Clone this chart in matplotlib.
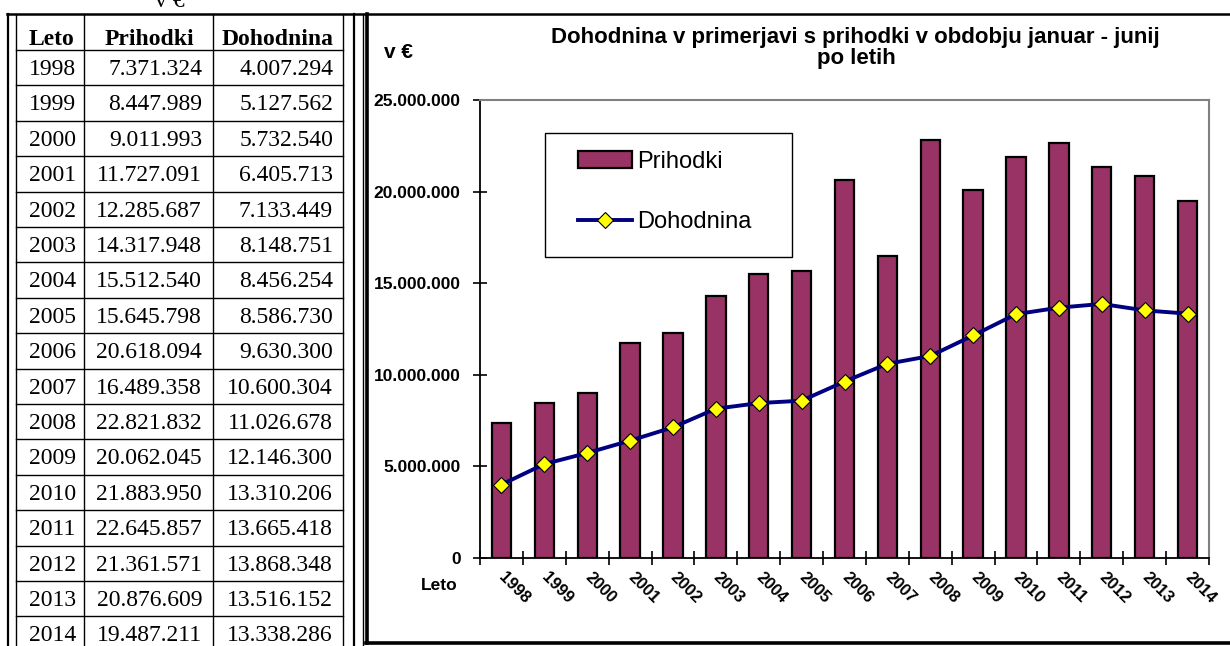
import numpy as np
import matplotlib
matplotlib.use('Agg')
import matplotlib.pyplot as plt
from matplotlib.lines import Line2D
from matplotlib.patches import Rectangle
from matplotlib.ticker import FuncFormatter

leta = [1998, 1999, 2000, 2001, 2002, 2003, 2004, 2005, 2006,
        2007, 2008, 2009, 2010, 2011, 2012, 2013, 2014]
prihodki = [7371324, 8447989, 9011993, 11727091, 12285687, 14317948,
            15512540, 15645798, 20618094, 16489358, 22821832, 20062045,
            21883950, 22645857, 21361571, 20876609, 19487211]
dohodnina = [4007294, 5127562, 5732540, 6405713, 7133449, 8148751,
             8456254, 8586730, 9630300, 10600304, 11026678, 12146300,
             13310206, 13665418, 13868348, 13516152, 13338286]
glava = ['Leto', 'Prihodki', 'Dohodnina']

W, H = 1230, 646
fig = plt.figure(figsize=(W / 100, H / 100), dpi=100)


def fx(x):
    return x / W


def fy(y):
    return 1 - y / H


def hline(x0, x1, y, lw=1.0):
    fig.add_artist(Line2D([fx(x0), fx(x1)], [fy(y), fy(y)], color='black', lw=lw))


def vline(x, y0, y1, lw=1.0):
    fig.add_artist(Line2D([fx(x), fx(x)], [fy(y0), fy(y1)], color='black', lw=lw))


def fmt(v):
    return f"{int(v):,}".replace(',', '.')


# ---- table on the left ----
serif = 'Liberation Serif'
tsize = 17
row_h = 35.4
hline(7, W, 14, lw=1.8)
hline(16, 343, 50)
for i in range(len(leta)):
    hline(16, 343, 50 + row_h * (i + 1))
vline(7.5, 14, H, lw=1.6)
for xv in [16, 84, 213, 343]:
    vline(xv, 14, H)
vline(354, 14, H, lw=1.6)
vline(362.5, 14, H)

# unit above the table, cut by the page edge as in the original
fig.text(fx(170), fy(7), 'v €', ha='center', va='baseline', fontsize=17, family=serif)

fig.text(fx(29), fy(45), glava[0], ha='left', va='baseline', fontsize=tsize,
         family=serif, fontweight='bold')
fig.text(fx(149), fy(45), glava[1], ha='center', va='baseline', fontsize=tsize,
         family=serif, fontweight='bold')
fig.text(fx(278), fy(45), glava[2], ha='center', va='baseline', fontsize=tsize,
         family=serif, fontweight='bold')
for i, (l, p, d) in enumerate(zip(leta, prihodki, dohodnina)):
    yb = 50 + row_h * i + 25
    fig.text(fx(29), fy(yb), str(l), ha='left', va='baseline', fontsize=tsize, family=serif)
    fig.text(fx(202), fy(yb), fmt(p), ha='right', va='baseline', fontsize=tsize, family=serif)
    fig.text(fx(333), fy(yb), fmt(d), ha='right', va='baseline', fontsize=tsize, family=serif)

# ---- chart frame ----
vline(366.5, 14, 643, lw=2.6)
hline(366, W, 643, lw=2.6)

sans = 'Liberation Sans'
fig.text(fx(855), fy(43), 'Dohodnina v primerjavi s prihodki v obdobju januar - junij',
         ha='center', va='baseline', fontsize=16, fontweight='bold', family=sans)
fig.text(fx(856), fy(64), 'po letih', ha='center', va='baseline', fontsize=16,
         fontweight='bold', family=sans)
fig.text(fx(384), fy(53), 'v €', ha='left', va='center', fontsize=15,
         fontweight='bold', family=sans)
fig.text(fx(458), fy(585), 'Leto', ha='right', va='center', fontsize=12.5,
         fontweight='bold', family=sans)

ax = fig.add_axes([fx(480), fy(558), (1209 - 480) / W, (558 - 100) / H])
x = np.arange(len(leta))
bars = ax.bar(x, prihodki, width=0.45, color='#993366', edgecolor='black', lw=1.6,
              label='Prihodki', zorder=2)
line, = ax.plot(x, dohodnina, color='#000080', lw=2.8, marker='D', ms=8.5,
                mfc='#FFFF00', mec='black', mew=0.8, label='Dohodnina', zorder=3)

ax.set_xlim(-0.5, len(leta) - 0.5)
ax.set_ylim(0, 25000000)
ax.set_yticks(np.arange(0, 25000001, 5000000))
ax.yaxis.set_major_formatter(FuncFormatter(lambda v, p: fmt(v)))
ax.set_xticks(np.arange(-0.5, len(leta), 1))
ax.set_xticklabels([])
ax.set_xticks(x, minor=True)
ax.set_xticklabels([str(l) for l in leta], minor=True, rotation=-45, ha='left',
                   va='center', rotation_mode='anchor', fontweight='bold',
                   fontsize=12, family=sans)
ax.tick_params(axis='x', which='minor', length=0, pad=12)
ax.tick_params(axis='x', which='major', direction='inout', length=10, width=1.2)
ax.tick_params(axis='y', direction='inout', length=10, width=1.2, pad=9, labelsize=12.5)
for lbl in ax.get_yticklabels():
    lbl.set_fontweight('bold')
    lbl.set_family(sans)

for s in ['top', 'right']:
    ax.spines[s].set_color('#808080')
    ax.spines[s].set_linewidth(1.5)
for s in ['left', 'bottom']:
    ax.spines[s].set_color('black')
    ax.spines[s].set_linewidth(1.3)

leg = ax.legend(handles=[bars, line], loc='upper left',
                bbox_to_anchor=(fx(578), fy(151)),
                bbox_transform=fig.transFigure, frameon=False,
                prop={'family': sans, 'size': 17}, handlelength=2.3,
                handletextpad=0.2, labelspacing=1.6, borderpad=0, borderaxespad=0)
ax.add_artist(Rectangle((fx(545), fy(257)), (792 - 545) / W, (257 - 133) / H,
                        transform=fig.transFigure, fill=False, edgecolor='black',
                        lw=1.0, clip_on=False))

fig.savefig('out.png', dpi=100)
